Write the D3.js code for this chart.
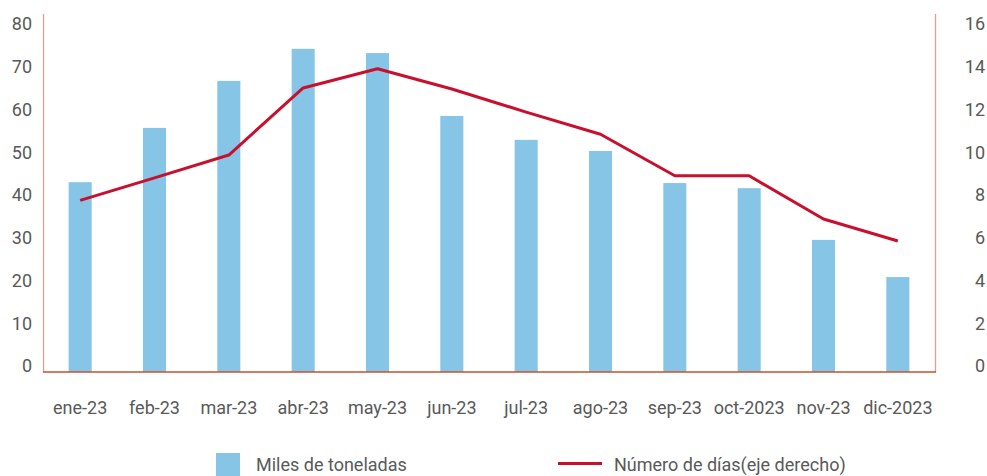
<!DOCTYPE html>
<html><head><meta charset="utf-8">
<script src="https://cdn.jsdelivr.net/npm/d3@7"></script>
<style>
html,body{margin:0;padding:0;background:#fff;}
svg{display:block;}
text{font-family:Roboto,"Noto Sans",sans-serif;fill:#595959;}
</style></head>
<body>
<svg id="c" width="987" height="476"></svg>
<script>
const categories = ["ene-23","feb-23","mar-23","abr-23","may-23","jun-23","jul-23","ago-23","sep-23","oct-2023","nov-23","dic-2023"];
const toneladas = [44.4, 57.1, 68.1, 75.6, 74.6, 59.9, 54.3, 51.7, 44.2, 43.0, 30.9, 22.2];
const dias = [8.03, 9.08, 10.15, 13.29, 14.19, 13.24, 12.16, 11.12, 9.18, 9.18, 7.16, 6.13];
const leftTicks = [0,10,20,30,40,50,60,70,80];
const rightTicks = [0,2,4,6,8,10,12,14,16];
const legendLabels = ["Miles de toneladas","Número de días(eje derecho)"];

const svg = d3.select("#c");
const L = 43, R = 935, B = 372, T = 30, AXTOP = 14;

const x = d3.scaleBand().domain(categories).range([L, R]).paddingInner(0.69).paddingOuter(0.345);
const yL = d3.scaleLinear().domain([0, 80]).range([B, T]);
const yR = d3.scaleLinear().domain([0, 16]).range([B, T]);

// bars
svg.append("g").selectAll("rect").data(categories).join("rect")
  .attr("x", d => x(d))
  .attr("width", x.bandwidth())
  .attr("y", (d,i) => yL(toneladas[i]))
  .attr("height", (d,i) => yL(0) - yL(toneladas[i]))
  .attr("fill", "#86C5E6");

// axis lines
svg.append("line").attr("x1", L+0.5).attr("x2", L+0.5).attr("y1", AXTOP).attr("y2", B)
  .attr("stroke", "#D9A294").attr("stroke-width", 1.3);
svg.append("line").attr("x1", R+0.5).attr("x2", R+0.5).attr("y1", AXTOP).attr("y2", B)
  .attr("stroke", "#D9A294").attr("stroke-width", 1.3);
svg.append("line").attr("x1", L).attr("x2", R+1).attr("y1", B).attr("y2", B)
  .attr("stroke", "#C0532F").attr("stroke-width", 1.5);

// line
const line = d3.line()
  .x((d,i) => x(categories[i]) + x.bandwidth()/2)
  .y(d => yR(d));
svg.append("path").datum(dias)
  .attr("d", line)
  .attr("fill", "none")
  .attr("stroke", "#C8102E")
  .attr("stroke-width", 3)
  .attr("stroke-linejoin", "round");

// left axis labels
const leftAxis = d3.axisLeft(yL).tickValues(leftTicks).tickSize(0).tickPadding(11);
const gl = svg.append("g").attr("transform", `translate(${L},-6)`).call(leftAxis);
gl.select(".domain").remove();
gl.selectAll("text").attr("font-size", 18).attr("fill", "#595959")
  .attr("font-family", "Roboto, sans-serif");

// right axis labels
const rightAxis = d3.axisRight(yR).tickValues(rightTicks).tickSize(0).tickPadding(0);
const gr = svg.append("g").attr("transform", `translate(985,-6)`).call(rightAxis);
gr.select(".domain").remove();
gr.selectAll("text").attr("font-size", 18).attr("fill", "#595959")
  .attr("text-anchor", "end").attr("x", 0)
  .attr("font-family", "Roboto, sans-serif");

// x axis labels
const xAxis = d3.axisBottom(x).tickSize(0).tickPadding(0);
const gx = svg.append("g").attr("transform", `translate(0,${B})`).call(xAxis);
gx.select(".domain").remove();
gx.selectAll("text").attr("font-size", 18).attr("fill", "#595959")
  .attr("dy", null).attr("y", 42)
  .attr("font-family", "Roboto, sans-serif");

// legend
const lg = svg.append("g");
lg.append("rect").attr("x", 216).attr("y", 453).attr("width", 24).attr("height", 24).attr("fill", "#86C5E6");
lg.append("text").attr("x", 256).attr("y", 471).attr("font-size", 18).text(legendLabels[0]);
lg.append("line").attr("x1", 558).attr("x2", 602).attr("y1", 463.5).attr("y2", 463.5)
  .attr("stroke", "#C8102E").attr("stroke-width", 3);
lg.append("text").attr("x", 614).attr("y", 471).attr("font-size", 18).text(legendLabels[1]);
</script>
</body></html>
